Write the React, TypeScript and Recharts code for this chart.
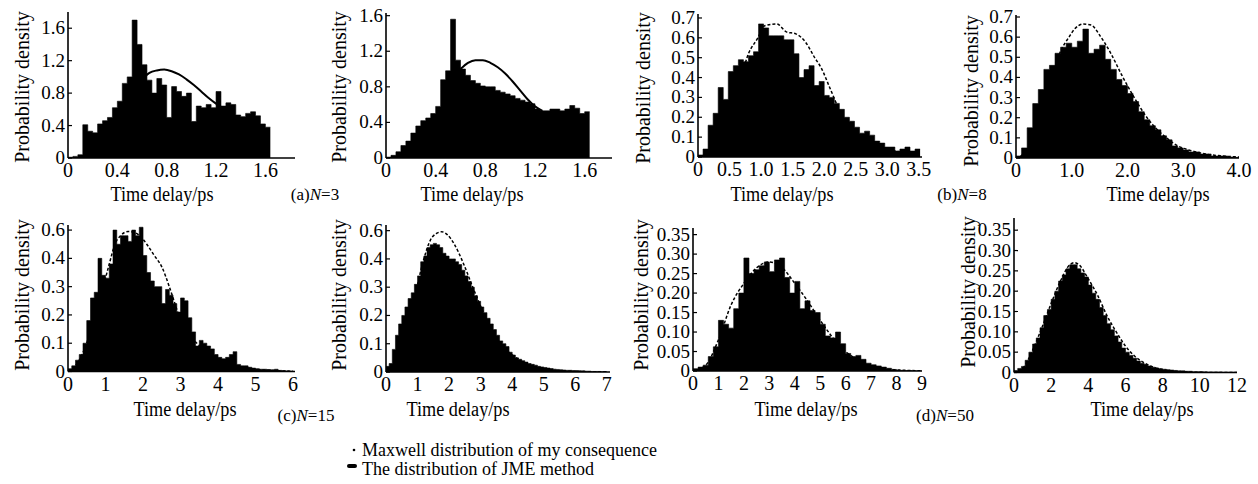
import React from 'react';
import { ComposedChart, Area, Line, XAxis, YAxis } from 'recharts';

const FONT = '"Liberation Serif", "Times New Roman", Times, serif';

// ---------------- (a) N=3, left ----------------
const a1BinWidth = 0.04;
const a1Density = [
  0.01, 0.02, 0.04, 0.41, 0.33, 0.31, 0.42, 0.46, 0.50, 0.62,
  0.70, 0.92, 1.00, 1.70, 1.40, 1.15, 0.96, 0.80, 0.98, 0.90,
  0.50, 0.88, 0.82, 0.76, 0.80, 0.45, 0.64, 0.62, 0.66, 0.62,
  0.82, 0.64, 0.68, 0.66, 0.53, 0.51, 0.55, 0.57, 0.52, 0.42,
  0.38,
];
const a1CurveX = [0.62, 0.66, 0.72, 0.78, 0.84, 0.90, 0.96, 1.02, 1.08, 1.14, 1.20, 1.24];
const a1CurveY = [1.00, 1.05, 1.08, 1.09, 1.07, 1.03, 0.97, 0.90, 0.82, 0.74, 0.67, 0.63];

// ---------------- (a) N=3, right ----------------
const a2BinWidth = 0.04;
const a2Density = [
  0.01, 0.03, 0.07, 0.14, 0.19, 0.28, 0.36, 0.42, 0.45, 0.50,
  0.58, 0.88, 0.98, 1.56, 1.10, 1.00, 0.93, 0.87, 0.84, 0.81,
  0.80, 0.80, 0.76, 0.74, 0.72, 0.70, 0.67, 0.65, 0.63, 0.61,
  0.55, 0.53, 0.53, 0.55, 0.55, 0.53, 0.55, 0.59, 0.56, 0.50,
  0.52,
];
const a2CurveX = [0.60, 0.66, 0.72, 0.78, 0.84, 0.90, 0.96, 1.02, 1.08, 1.14, 1.20, 1.26];
const a2CurveY = [1.00, 1.07, 1.10, 1.10, 1.07, 1.02, 0.95, 0.86, 0.76, 0.66, 0.58, 0.53];

// ---------------- (b) N=8, left ----------------
const b1BinWidth = 0.08;
const b1Density = [
  0.01, 0.04, 0.16, 0.22, 0.35, 0.29, 0.43, 0.46, 0.49, 0.48,
  0.51, 0.53, 0.67, 0.65, 0.61, 0.61, 0.61, 0.59, 0.59, 0.52,
  0.40, 0.44, 0.46, 0.36, 0.38, 0.31, 0.30, 0.27, 0.24, 0.20,
  0.18, 0.15, 0.12, 0.13, 0.11, 0.08, 0.07, 0.05, 0.05, 0.03,
  0.04, 0.05, 0.03, 0.04,
];
const b1CurveX = [0, 0.2, 0.4, 0.6, 0.8, 0.95, 1.05, 1.25, 1.4, 1.55, 1.7, 1.85, 1.95, 2.1, 2.25, 2.45, 2.7, 3.0, 3.3, 3.5];
const b1CurveY = [0, 0.03, 0.12, 0.30, 0.52, 0.60, 0.66, 0.67, 0.63, 0.62, 0.58, 0.50, 0.45, 0.34, 0.23, 0.14, 0.08, 0.04, 0.02, 0.01];

// ---------------- (b) N=8, right ----------------
const b2BinWidth = 0.1;
const b2Density = [
  0.01, 0.05, 0.15, 0.27, 0.34, 0.44, 0.46, 0.52, 0.55, 0.57,
  0.55, 0.58, 0.64, 0.52, 0.54, 0.56, 0.49, 0.44, 0.39, 0.36,
  0.32, 0.28, 0.23, 0.19, 0.16, 0.14, 0.11, 0.09, 0.06, 0.05,
  0.04, 0.03, 0.03, 0.02, 0.02, 0.01, 0.01, 0.01, 0.005, 0.003,
];
const b2CurveX = [0, 0.2, 0.4, 0.6, 0.8, 0.95, 1.05, 1.2, 1.35, 1.5, 1.7, 1.9, 2.1, 2.3, 2.5, 2.7, 2.9, 3.1, 3.4, 3.7, 4.0];
const b2CurveY = [0, 0.04, 0.17, 0.36, 0.53, 0.60, 0.64, 0.665, 0.66, 0.61, 0.52, 0.41, 0.31, 0.22, 0.15, 0.10, 0.06, 0.04, 0.02, 0.01, 0.005];

// ---------------- (c) N=15, left ----------------
const c1BinWidth = 0.1;
const c1Density = [
  0.01, 0.02, 0.04, 0.06, 0.10, 0.18, 0.26, 0.28, 0.40, 0.34,
  0.33, 0.38, 0.50, 0.45, 0.48, 0.48, 0.46, 0.50, 0.48, 0.51,
  0.41, 0.35, 0.32, 0.30, 0.30, 0.24, 0.29, 0.27, 0.24, 0.21,
  0.26, 0.25, 0.19, 0.14, 0.09, 0.11, 0.10, 0.09, 0.08, 0.06,
  0.05, 0.045, 0.05, 0.06, 0.07, 0.025, 0.02, 0.02, 0.015, 0.012,
  0.01, 0.008, 0.008, 0.007, 0.006, 0.008, 0.004, 0.003, 0.002, 0.001,
];
const c1CurveX = [0, 0.3, 0.6, 0.9, 1.1, 1.25, 1.4, 1.6, 1.8, 1.95, 2.1, 2.3, 2.5, 2.7, 2.85, 3.0, 3.3, 3.6, 4.0, 4.5, 5.0, 5.5, 6.0];
const c1CurveY = [0, 0.04, 0.14, 0.28, 0.38, 0.45, 0.48, 0.495, 0.49, 0.475, 0.45, 0.41, 0.37, 0.30, 0.24, 0.18, 0.12, 0.08, 0.045, 0.02, 0.008, 0.003, 0.001];

// ---------------- (c) N=15, right ----------------
const c2BinWidth = 0.1;
const c2Density = [
  0.02, 0.03, 0.08, 0.13, 0.17, 0.20, 0.23, 0.26, 0.28, 0.31,
  0.34, 0.39, 0.41, 0.44, 0.45, 0.455, 0.45, 0.44, 0.42, 0.41,
  0.40, 0.40, 0.39, 0.38, 0.36, 0.34, 0.32, 0.30, 0.27, 0.25,
  0.23, 0.21, 0.19, 0.17, 0.15, 0.13, 0.11, 0.10, 0.09, 0.07,
  0.06, 0.05, 0.045, 0.04, 0.035, 0.03, 0.027, 0.024, 0.02, 0.018,
  0.016, 0.014, 0.012, 0.01, 0.009, 0.008, 0.007, 0.006, 0.006, 0.005,
  0.005, 0.004, 0.004, 0.003, 0.003, 0.002, 0.002, 0.002, 0.001, 0.001,
];
const c2CurveX = [0, 0.3, 0.6, 0.9, 1.2, 1.4, 1.6, 1.77, 1.95, 2.15, 2.45, 2.75, 3.05, 3.4, 3.8, 4.2, 4.6, 5.0, 5.5, 6.0, 7.0];
const c2CurveY = [0, 0.03, 0.12, 0.26, 0.40, 0.465, 0.49, 0.496, 0.485, 0.455, 0.385, 0.30, 0.22, 0.14, 0.08, 0.045, 0.022, 0.01, 0.004, 0.002, 0.0005];

// ---------------- (d) N=50, left ----------------
const d1BinWidth = 0.2;
const d1Density = [
  0.006, 0.01, 0.015, 0.037, 0.062, 0.13, 0.12, 0.11, 0.16, 0.20,
  0.29, 0.25, 0.26, 0.27, 0.28, 0.255, 0.285, 0.29, 0.24, 0.20,
  0.23, 0.16, 0.18, 0.155, 0.15, 0.12, 0.09, 0.085, 0.10, 0.07,
  0.045, 0.037, 0.04, 0.03, 0.02, 0.016, 0.013, 0.01, 0.007, 0.004,
  0.002, 0.001, 0.001, 0, 0,
];
const d1CurveX = [0, 0.5, 1.0, 1.5, 2.0, 2.5, 3.0, 3.5, 4.0, 4.5, 5.0, 5.5, 6.0, 6.5, 7.0, 7.5, 8.0, 9.0];
const d1CurveY = [0, 0.015, 0.08, 0.17, 0.225, 0.265, 0.28, 0.265, 0.225, 0.18, 0.13, 0.085, 0.05, 0.028, 0.014, 0.006, 0.003, 0.0005];

// ---------------- (d) N=50, right ----------------
const d2BinWidth = 0.2;
const d2Density = [
  0.005, 0.01, 0.015, 0.03, 0.05, 0.07, 0.085, 0.11, 0.14, 0.155,
  0.18, 0.20, 0.225, 0.24, 0.255, 0.265, 0.265, 0.255, 0.245, 0.235,
  0.215, 0.195, 0.18, 0.16, 0.14, 0.12, 0.105, 0.09, 0.075, 0.06,
  0.05, 0.042, 0.035, 0.028, 0.023, 0.02, 0.016, 0.013, 0.011, 0.009,
  0.008, 0.007, 0.006, 0.005, 0.004, 0.004, 0.003, 0.003, 0.002, 0.002,
  0.002, 0.001, 0.001, 0.001, 0.001, 0.001, 0.0005, 0.0005, 0.0005, 0.0005,
];
const d2CurveX = [0, 0.5, 1.0, 1.5, 2.0, 2.5, 3.0, 3.25, 3.5, 4.0, 4.5, 5.0, 5.5, 6.0, 6.5, 7.0, 7.5, 8.0, 9.0, 10, 12];
const d2CurveY = [0, 0.012, 0.055, 0.11, 0.17, 0.225, 0.265, 0.27, 0.265, 0.23, 0.19, 0.14, 0.10, 0.065, 0.04, 0.024, 0.013, 0.007, 0.002, 0.0005, 0];

// ---------------- ticks ----------------
const ticksA = [0, 0.4, 0.8, 1.2, 1.6];
const labelsA = ['0', '0.4', '0.8', '1.2', '1.6'];
const ticksB1X = [0, 0.5, 1, 1.5, 2, 2.5, 3, 3.5];
const labelsB1X = ['0', '0.5', '1.0', '1.5', '2.0', '2.5', '3.0', '3.5'];
const ticksB2X = [0, 1, 2, 3, 4];
const labelsB2X = ['0', '1.0', '2.0', '3.0', '4.0'];
const ticksBY = [0, 0.1, 0.2, 0.3, 0.4, 0.5, 0.6, 0.7];
const labelsBY = ['0', '0.1', '0.2', '0.3', '0.4', '0.5', '0.6', '0.7'];
const ticksC1X = [0, 1, 2, 3, 4, 5, 6];
const ticksC2X = [0, 1, 2, 3, 4, 5, 6, 7];
const ticksCY = [0, 0.1, 0.2, 0.3, 0.4, 0.5];
const labelsCY = ['0', '0.1', '0.2', '0.3', '0.4', '0.6'];
const ticksD1X = [0, 1, 2, 3, 4, 5, 6, 7, 8, 9];
const ticksD2X = [0, 2, 4, 6, 8, 10, 12];
const ticksDY = [0, 0.05, 0.1, 0.15, 0.2, 0.25, 0.3, 0.35];
const labelsDY = ['0', '0.05', '0.10', '0.15', '0.20', '0.25', '0.30', '0.35'];

// ---------------- captions ----------------
const xTitle = 'Time delay/ps';
const yTitle = 'Probability density';
const legendCurve = 'Maxwell distribution of my consequence';
const legendHist = 'The distribution of JME method';

type Pt = { x: number; y: number };
// histogram as a step outline: each bin starts at its left edge; the last bin is closed at its right edge
const toSteps = (w: number, vals: number[]): Pt[] => {
  const pts = vals.map((y, i) => ({ x: Math.round(w * i * 10000) / 10000, y }));
  pts.push({ x: Math.round(w * vals.length * 10000) / 10000, y: vals[vals.length - 1] });
  return pts;
};
const toCurve = (xs: number[], ys: number[]): Pt[] => xs.map((x, i) => ({ x, y: ys[i] }));
const str = (t: number[]) => t.map((v) => String(v));

type PanelDef = {
  left: number; right: number; top: number; bottom: number;
  xDomain: [number, number]; yDomain: [number, number];
  bins: Pt[]; curve: Pt[];
  xTicks: number[]; xLabels: string[]; yTicks: number[]; yLabels: string[];
  dashed: boolean;
};

const panels: PanelDef[] = [
  { left: 68, right: 295, top: 12, bottom: 158, xDomain: [0, 1.84], yDomain: [0, 1.8],
    bins: toSteps(a1BinWidth, a1Density), curve: toCurve(a1CurveX, a1CurveY),
    xTicks: ticksA, xLabels: labelsA, yTicks: ticksA, yLabels: labelsA, dashed: false },
  { left: 386, right: 612, top: 13, bottom: 158, xDomain: [0, 1.82], yDomain: [0, 1.63],
    bins: toSteps(a2BinWidth, a2Density), curve: toCurve(a2CurveX, a2CurveY),
    xTicks: ticksA, xLabels: labelsA, yTicks: ticksA, yLabels: labelsA, dashed: false },
  { left: 698, right: 922, top: 14, bottom: 157, xDomain: [0, 3.55], yDomain: [0, 0.72],
    bins: toSteps(b1BinWidth, b1Density), curve: toCurve(b1CurveX, b1CurveY),
    xTicks: ticksB1X, xLabels: labelsB1X, yTicks: ticksBY, yLabels: labelsBY, dashed: true },
  { left: 1016, right: 1239, top: 15, bottom: 158, xDomain: [0, 4], yDomain: [0, 0.71],
    bins: toSteps(b2BinWidth, b2Density), curve: toCurve(b2CurveX, b2CurveY),
    xTicks: ticksB2X, xLabels: labelsB2X, yTicks: ticksBY, yLabels: labelsBY, dashed: true },
  { left: 68, right: 295, top: 225, bottom: 371.5, xDomain: [0, 6.05], yDomain: [0, 0.518],
    bins: toSteps(c1BinWidth, c1Density), curve: toCurve(c1CurveX, c1CurveY),
    xTicks: ticksC1X, xLabels: str(ticksC1X), yTicks: ticksCY, yLabels: labelsCY, dashed: true },
  { left: 386, right: 610, top: 225, bottom: 372, xDomain: [0, 7.1], yDomain: [0, 0.52],
    bins: toSteps(c2BinWidth, c2Density), curve: toCurve(c2CurveX, c2CurveY),
    xTicks: ticksC2X, xLabels: str(ticksC2X), yTicks: ticksCY, yLabels: labelsCY, dashed: true },
  { left: 693, right: 922, top: 228, bottom: 371, xDomain: [0, 9], yDomain: [0, 0.367],
    bins: toSteps(d1BinWidth, d1Density), curve: toCurve(d1CurveX, d1CurveY),
    xTicks: ticksD1X, xLabels: str(ticksD1X), yTicks: ticksDY, yLabels: labelsDY, dashed: true },
  { left: 1014, right: 1237, top: 218, bottom: 372.5, xDomain: [0, 12], yDomain: [0, 0.38],
    bins: toSteps(d2BinWidth, d2Density), curve: toCurve(d2CurveX, d2CurveY),
    xTicks: ticksD2X, xLabels: str(ticksD2X), yTicks: ticksDY, yLabels: labelsDY, dashed: true },
];

const findLabel = (ticks: number[], labels: string[], v: number) => {
  const i = ticks.findIndex((t) => Math.abs(t - v) < 1e-9);
  return i >= 0 ? labels[i] : String(v);
};

const makeXTick = (ticks: number[], labels: string[]) => (props: any) => {
  const { x, y, payload } = props;
  return (
    <g transform={`translate(${x},${y})`}>
      <text x={0} y={19} textAnchor="middle" fontSize={20} fontFamily={FONT} fill="#000">
        {findLabel(ticks, labels, payload.value)}
      </text>
    </g>
  );
};

const makeYTick = (ticks: number[], labels: string[]) => (props: any) => {
  const { x, y, payload } = props;
  return (
    <g transform={`translate(${x},${y})`}>
      <line x1={0} x2={4} y1={0} y2={0} stroke="#000" strokeWidth={1.2} />
      <text x={-3} y={6} textAnchor="end" fontSize={19} fontFamily={FONT} fill="#000">
        {findLabel(ticks, labels, payload.value)}
      </text>
    </g>
  );
};

const AXIS_W = 60;
const AXIS_H = 30;
const M_TOP = 14;
const M_RIGHT = 22;

function Panel(p: PanelDef) {
  const width = p.right - p.left + AXIS_W + M_RIGHT;
  const height = p.bottom - p.top + M_TOP + AXIS_H;
  return (
    <div style={{ position: 'absolute', left: p.left - AXIS_W, top: p.top - M_TOP, width, height }}>
      <ComposedChart
        width={width}
        height={height}
        data={p.bins}
        margin={{ top: M_TOP, right: M_RIGHT, bottom: 0, left: 0 }}
      >
        <XAxis
          xAxisId="bins"
          dataKey="x"
          type="number"
          domain={p.xDomain}
          ticks={p.xTicks}
          interval={0}
          allowDataOverflow
          height={AXIS_H}
          tickLine={false}
          tickSize={0}
          tickMargin={0}
          axisLine={{ stroke: '#000', strokeWidth: 1.6 }}
          tick={makeXTick(p.xTicks, p.xLabels)}
        />
        <XAxis xAxisId="curve" dataKey="x" type="number" domain={p.xDomain} allowDataOverflow hide />
        <YAxis
          type="number"
          domain={p.yDomain}
          ticks={p.yTicks}
          interval={0}
          allowDataOverflow
          width={AXIS_W}
          tickLine={false}
          tickSize={0}
          tickMargin={0}
          axisLine={{ stroke: '#000', strokeWidth: 1.6 }}
          tick={makeYTick(p.yTicks, p.yLabels)}
        />
        <Area
          xAxisId="bins"
          dataKey="y"
          type="stepAfter"
          fill="#000"
          fillOpacity={1}
          stroke="#000"
          strokeWidth={0.6}
          dot={false}
          activeDot={false}
          isAnimationActive={false}
        />
        <Line
          xAxisId="curve"
          data={p.curve}
          dataKey="y"
          type="monotone"
          stroke="#000"
          strokeWidth={p.dashed ? 1.5 : 2}
          strokeDasharray={p.dashed ? '3 2' : undefined}
          dot={false}
          activeDot={false}
          isAnimationActive={false}
        />
      </ComposedChart>
    </div>
  );
}

const yTitlePos = [
  [22, 87], [339, 87], [643, 88], [971, 91],
  [22, 295], [339, 295], [641, 295], [968, 292],
];
const xTitlePos = [
  [162, 201], [472, 201], [782, 201], [1158, 201],
  [185, 416], [458, 416], [806, 416], [1142, 416],
];
const captions = [
  { pre: '(a)', n: '3', x: 315, y: 200 },
  { pre: '(b)', n: '8', x: 962, y: 200 },
  { pre: '(c)', n: '15', x: 306, y: 421 },
  { pre: '(d)', n: '50', x: 945, y: 421 },
];

export default function App() {
  return (
    <div style={{ position: 'absolute', left: 0, top: 0, width: 1258, height: 484, background: '#fff', overflow: 'hidden' }}>
      {panels.map((p, i) => (
        <Panel key={i} {...p} />
      ))}
      <svg width={1258} height={484} style={{ position: 'absolute', left: 0, top: 0, pointerEvents: 'none' }}>
        <g fontFamily={FONT} fill="#000">
          {yTitlePos.map(([cx, cy], i) => (
            <text key={'y' + i} transform={`translate(${cx},${cy}) rotate(-90)`} textAnchor="middle" dy="0.35em" fontSize={20}>
              {yTitle}
            </text>
          ))}
          {xTitlePos.map(([cx, by], i) => (
            <text key={'x' + i} x={cx - 51.5} y={by} fontSize={20} textLength={103} lengthAdjust="spacingAndGlyphs">
              {xTitle}
            </text>
          ))}
          {captions.map((c, i) => (
            <text key={'c' + i} x={c.x} y={c.y} textAnchor="middle" fontSize={17}>
              {c.pre}
              <tspan fontStyle="italic">N</tspan>={c.n}
            </text>
          ))}
          <circle cx={354} cy={450} r={1.3} fill="#000" />
          <text x={362} y={456} fontSize={18}>{legendCurve}</text>
          <rect x={347} y={464} width={10} height={4} rx={2} fill="#000" />
          <text x={362} y={475} fontSize={18}>{legendHist}</text>
        </g>
      </svg>
    </div>
  );
}
